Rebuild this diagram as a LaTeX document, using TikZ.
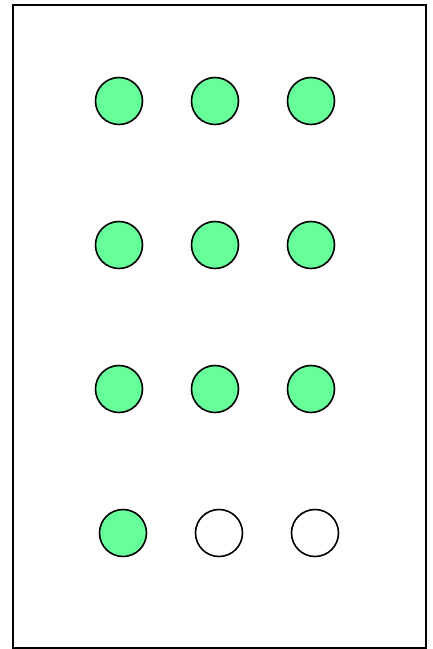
\documentclass[tikz,border=0pt]{standalone}
\definecolor{dotgreen}{HTML}{66FF99}
\begin{document}
\begin{tikzpicture}[x=1pt,y=-1pt,
  dot/.style={circle,draw=black,line width=1.6pt,minimum size=47pt,inner sep=0pt,fill=dotgreen},
  emptydot/.style={dot,fill=white}]
\useasboundingbox (0,0) rectangle (432,649);
\node[draw=black,line width=1.5pt,minimum width=413pt,minimum height=643pt,inner sep=0pt] (frame) at (219.5,326.5) {};
\foreach \r/\y in {1/101,2/245,3/389}{
  \node[dot] (d\r a) at (119,\y) {};
  \node[dot] (d\r b) at (215,\y) {};
  \node[dot] (d\r c) at (311,\y) {};
}
\node[dot] (d4a) at (123,533) {};
\node[emptydot] (d4b) at (219,533) {};
\node[emptydot] (d4c) at (315,533) {};
\end{tikzpicture}
\end{document}
